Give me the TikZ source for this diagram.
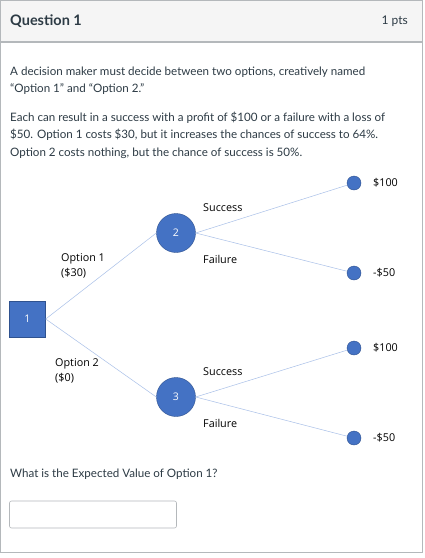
\documentclass[tikz,border=0pt]{standalone}
\usepackage{fontspec}
\usepackage{xcolor}
\setmainfont{Lato}
\newfontfamily\treefont{Open Sans}
\definecolor{canvastext}{HTML}{2D3B45}
\definecolor{headgray}{HTML}{F5F5F5}
\definecolor{framegray}{HTML}{B4B8BB}
\definecolor{treeblue}{HTML}{4472C4}
\definecolor{treeedge}{HTML}{2F528F}
\definecolor{branchblue}{HTML}{A9C0E8}

\begin{document}
\begin{tikzpicture}[x=1pt,y=-1pt,
	decision/.style={draw=treeedge,fill=treeblue,minimum size=36pt,inner sep=0pt,text=white,font=\treefont\fontsize{10.5}{12}\selectfont},
	chance/.style={circle,draw=treeedge,fill=treeblue,minimum size=39pt,inner sep=0pt,text=white,font=\treefont\fontsize{10.5}{12}\selectfont},
	leaf/.style={circle,draw=treeedge,fill=treeblue,minimum size=14pt,inner sep=0pt},
	branch/.style={branchblue,line width=.5pt},
	treelabel/.style={anchor=west,align=left,font=\treefont\fontsize{10.8}{15.5}\selectfont,text=black,inner sep=0pt},
	bodytext/.style={anchor=base west,text=canvastext,inner sep=0pt,font=\fontsize{11.6}{17.5}\selectfont}]
	\def \width {425};
	\def \height {558};
	\useasboundingbox (0,0) rectangle (\width,\height);

	%frame
	\fill[white] (0,0) rectangle (\width,\height);
	\draw[framegray,line width=1.2pt,fill=headgray] (0.6,0.6) rectangle (422.8,42);
	\draw[framegray,line width=1.2pt] (0.6,42) -- (0.6,552.4) -- (422.8,552.4) -- (422.8,42);
	\node[anchor=west,text=canvastext,inner sep=0pt,font=\bfseries\fontsize{14.5}{16}\selectfont] (qtitle) at (10,21) {Question 1};
	\node[anchor=east,text=canvastext,inner sep=0pt,font=\fontsize{12}{14}\selectfont] (qpts) at (408,21) {1 pts};

	%question text
	\node[bodytext] (para1) at (10,75) {A decision maker must decide between two options, creatively named};
	\node[bodytext] (para1b) at (10,92.5) {``Option 1'' and ``Option 2.''};
	\node[bodytext] (para2) at (10,121) {Each can result in a success with a profit of \$100 or a failure with a loss of};
	\node[bodytext] (para2b) at (10,138.5) {\$50. Option 1 costs \$30, but it increases the chances of success to 64\%.};
	\node[bodytext] (para2c) at (10,156) {Option 2 costs nothing, but the chance of success is 50\%.};

	%tree nodes
	\node[decision] (n1) at (27.5,319) {1};
	\node[chance] (n2) at (176,233) {2};
	\node[chance] (n3) at (176,397) {3};
	\node[leaf] (w1) at (354,183) {};
	\node[leaf] (l1) at (354,273) {};
	\node[leaf] (w2) at (354,348) {};
	\node[leaf] (l2) at (354,438) {};

	%branches
	\draw[branch] (n1.east) -- (n2.west);
	\draw[branch] (n1.east) -- (n3.west);
	\draw[branch] (n2.east) -- (w1);
	\draw[branch] (n2.east) -- (l1);
	\draw[branch] (n3.east) -- (w2);
	\draw[branch] (n3.east) -- (l2);

	%labels
	\node[treelabel] (opt1) at (61,266) {Option 1\\(\$30)};
	\node[treelabel] (opt2) at (55,371) {Option 2\\(\$0)};
	\node[treelabel] (s1) at (203,208) {Success};
	\node[treelabel] (f1) at (203,259) {Failure};
	\node[treelabel] (s2) at (203,372) {Success};
	\node[treelabel] (f2) at (203,423) {Failure};
	\node[treelabel] (v1) at (373,183) {\$100};
	\node[treelabel] (v2) at (373,273) {-\$50};
	\node[treelabel] (v3) at (373,348) {\$100};
	\node[treelabel] (v4) at (373,438) {-\$50};

	%answer
	\node[bodytext] (ask) at (10,477) {What is the Expected Value of Option 1?};
	\draw[framegray,line width=.6pt,rounded corners=2pt] (9.5,501) rectangle (176.5,528);
\end{tikzpicture}
\end{document}
